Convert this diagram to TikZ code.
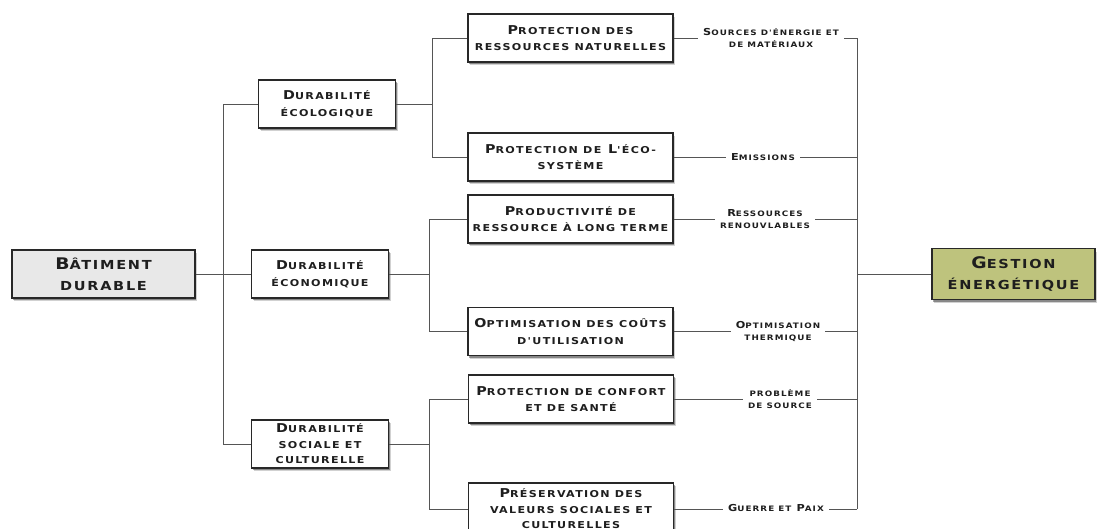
\documentclass[tikz,border=0pt]{standalone}
\usepackage{fontspec}
\usetikzlibrary{shadows}
\newfontfamily\cpf{DejaVu Sans}[FakeStretch=1.17,LetterSpace=14]
\newcommand\Sb[1]{{\fontsize{9.5}{16.5}\selectfont #1}}
\newcommand\Sl[1]{{\fontsize{7.5}{12}\selectfont #1}}
\newcommand\Sm[1]{{\fontsize{12.4}{21}\selectfont #1}}
\definecolor{linec}{RGB}{85,85,85}
\definecolor{boxline}{RGB}{40,40,40}
\definecolor{txt}{RGB}{30,30,30}
\definecolor{olive}{RGB}{190,195,125}
\definecolor{lgray}{RGB}{232,232,232}
\tikzset{
  base/.style={draw=boxline, line width=1.1pt, fill=white, align=center, inner sep=0pt,
    text=txt,
    drop shadow={shadow xshift=2.2pt, shadow yshift=-3.2pt, opacity=0.18, fill=black},
    drop shadow={shadow xshift=1.4pt, shadow yshift=-2.2pt, opacity=0.35, fill=black}},
  mainbox/.style={base, minimum width=183pt, minimum height=48pt, font=\cpf\bfseries\fontsize{16}{21}\selectfont},
  lvone/.style={base, minimum width=137pt, minimum height=48pt, font=\cpf\bfseries\fontsize{12.2}{16.5}\selectfont},
  lvtwo/.style={base, minimum width=205pt, minimum height=48pt, font=\cpf\bfseries\fontsize{12.2}{16.5}\selectfont},
  lab/.style={fill=white, inner xsep=5pt, inner ysep=1pt, align=center, text=txt, font=\cpf\bfseries\fontsize{9.6}{12}\selectfont},
  conn/.style={draw=linec, line width=0.9pt},
}
\begin{document}
\begin{tikzpicture}[x=1pt,y=-1pt]
\useasboundingbox (0,0) rectangle (1107,528);
\clip (0,0) rectangle (1107,528);

% nodes
\node[mainbox, fill=lgray] (bat) at (103.5,274) {B\Sm{ÂTIMENT}\\\Sm{DURABLE}};
\node[mainbox, fill=olive, minimum width=163pt, minimum height=51pt] (ges) at (1013.5,274) {G\Sm{ESTION}\\\Sm{ÉNERGÉTIQUE}};

\node[lvone] (eco) at (327,104) {D\Sb{URABILITÉ}\\\Sb{ÉCOLOGIQUE}};
\node[lvone] (econ) at (320,274) {D\Sb{URABILITÉ}\\\Sb{ÉCONOMIQUE}};
\node[lvone, font=\cpf\bfseries\fontsize{12.2}{15.5}\selectfont] (soc) at (320,444) {D\Sb{URABILITÉ}\\\Sb{SOCIALE ET}\\\Sb{CULTURELLE}};

\node[lvtwo] (p1) at (570.5,38) {P\Sb{ROTECTION DES}\\\Sb{RESSOURCES NATURELLES}};
\node[lvtwo] (p2) at (570.5,157) {P\Sb{ROTECTION DE} L\Sb{'ÉCO-}\\\Sb{SYSTÈME}};
\node[lvtwo] (p3) at (570.5,219) {P\Sb{RODUCTIVITÉ DE}\\\Sb{RESSOURCE À LONG TERME}};
\node[lvtwo] (p4) at (570.5,331.5) {O\Sb{PTIMISATION DES COÛTS}\\\Sb{D'UTILISATION}};
\node[lvtwo] (p5) at (571,399) {P\Sb{ROTECTION DE CONFORT}\\\Sb{ET DE SANTÉ}};
\node[lvtwo, minimum height=52pt, font=\cpf\bfseries\fontsize{12.2}{15.5}\selectfont] (p6) at (571,509) {P\Sb{RÉSERVATION DES}\\\Sb{VALEURS SOCIALES ET}\\\Sb{CULTURELLES}};

% junction coordinates
\coordinate (v1) at (223,274);
\coordinate (v2) at (432,104);
\coordinate (v3) at (429,274);
\coordinate (v4) at (429,444);
\coordinate (vR) at (857,274);

% left tree
\draw[conn] (bat.east) -- (v1);
\draw[conn] (v1 |- eco.west) -- (v1 |- soc.west);
\draw[conn] (v1 |- eco.west) -- (eco.west);
\draw[conn] (v1 |- econ.west) -- (econ.west);
\draw[conn] (v1 |- soc.west) -- (soc.west);

\draw[conn] (eco.east) -- (v2);
\draw[conn] (v2 |- p1.west) -- (v2 |- p2.west);
\draw[conn] (v2 |- p1.west) -- (p1.west);
\draw[conn] (v2 |- p2.west) -- (p2.west);

\draw[conn] (econ.east) -- (v3);
\draw[conn] (v3 |- p3.west) -- (v3 |- p4.west);
\draw[conn] (v3 |- p3.west) -- (p3.west);
\draw[conn] (v3 |- p4.west) -- (p4.west);

\draw[conn] (soc.east) -- (v4);
\draw[conn] (v4 |- p5.west) -- (v4 |- p6.west);
\draw[conn] (v4 |- p5.west) -- (p5.west);
\draw[conn] (v4 |- p6.west) -- (p6.west);

% right side
\draw[conn] (vR |- p1.east) -- (vR |- p6.east);
\draw[conn] (vR) -- (ges.west);
\foreach \n in {p1,p2,p3,p4,p5,p6}{
  \draw[conn] (\n.east) -- (vR |- \n.east);
}

\node[lab] (l1) at (771,38) {S\Sl{OURCES D'ÉNERGIE ET}\\\Sl{DE MATÉRIAUX}};
\node[lab] (l2) at (763,157) {E\Sl{MISSIONS}};
\node[lab] (l3) at (765,219) {R\Sl{ESSOURCES}\\\Sl{RENOUVLABLES}};
\node[lab] (l4) at (778,331.5) {O\Sl{PTIMISATION}\\\Sl{THERMIQUE}};
\node[lab] (l5) at (780,399) {\Sl{PROBLÈME}\\\Sl{DE SOURCE}};
\node[lab] (l6) at (776,508) {G\Sl{UERRE ET} P\Sl{AIX}};
\end{tikzpicture}
\end{document}
